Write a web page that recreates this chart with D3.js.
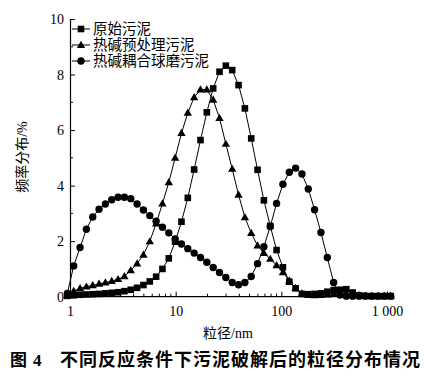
<!DOCTYPE html>
<html><head><meta charset="utf-8">
<script src="https://cdn.jsdelivr.net/npm/d3@7"></script>
<style>body{margin:0;background:#fff}svg{display:block}</style>
</head><body><svg id="c" width="433" height="379"></svg>
<script>
// particle size classes (nm)
const sizes = [0.944,1.084,1.245,1.429,1.641,1.884,2.163,2.483,2.851,3.273,3.758,4.315,4.955,5.689,6.531,7.499,8.610,9.886,11.35,13.03,14.96,17.18,19.72,22.65,26.00,29.85,34.28,39.36,45.19,51.88,59.57,68.39,78.52,90.16,103.5,118.9,136.5,156.7,179.9,206.5,237.1,272.3,312.6,358.9,412.1,473.2,543.3,623.7,716.1,822.2,944.1,1084];
// 原始污泥
const rawSludge = [0.03,0.05,0.07,0.08,0.09,0.10,0.12,0.14,0.16,0.20,0.25,0.32,0.42,0.55,0.72,1.00,1.38,1.98,2.70,3.56,4.58,5.64,6.64,7.50,8.10,8.32,8.16,7.62,6.78,5.70,4.57,3.47,2.55,1.68,1.06,0.54,0.30,0.10,0.09,0.10,0.12,0.18,0.24,0.25,0.27,0.15,0.05,0.03,0.02,0.02,0.02,0.02];
// 热碱预处理污泥
const thermalAlkali = [0.05,0.20,0.30,0.36,0.41,0.46,0.51,0.56,0.63,0.73,0.95,1.19,1.51,1.99,2.63,3.35,4.12,5.00,5.89,6.62,7.18,7.46,7.46,7.09,6.43,5.50,4.60,3.67,2.86,2.29,1.84,1.57,1.36,1.13,0.88,0.58,0.31,0.11,0.06,0.05,0.06,0.08,0.10,0.12,0.12,0.10,0.06,0.03,0.02,0.02,0.02,0.02];
// 热碱耦合球磨污泥
const ballMilled = [0.12,1.11,1.77,2.43,2.87,3.15,3.34,3.49,3.58,3.58,3.53,3.34,3.12,2.92,2.72,2.50,2.30,2.08,1.90,1.73,1.57,1.41,1.24,1.05,0.87,0.69,0.51,0.43,0.51,0.73,1.19,1.80,2.53,3.36,4.05,4.48,4.63,4.42,3.88,3.13,2.31,1.41,0.51,0.06,0.02,0.02,0.02,0.02,0.02,0.02,0.02,0.02];
const seriesNames = ["原始污泥","热碱预处理污泥","热碱耦合球磨污泥"];
const seriesSymbols = ["square","triangle","circle"];
const xTicks = [1,10,100,1000];
const xTickLabels = ["1","10","100","1 000"];
const xMinorTicks = [2,3,4,5,6,7,8,9,20,30,40,50,60,70,80,90,200,300,400,500,600,700,800,900];
const yTicks = [0,2,4,6,8,10];
const yMinorTicks = [1,3,5,7,9];

const svg = d3.select("#c");
svg.append("rect").attr("width",433).attr("height",379).attr("fill","#fff");

const x = d3.scaleLog().domain([1,1000]).range([70,387]);
const y = d3.scaleLinear().domain([0,10]).range([296.7,19]);
const xEnd = x(1100);

const serif = "'Liberation Serif','Times New Roman',serif";
// primary serif font keeps line metrics compact; CJK glyphs fall back to Noto Sans CJK
const mixed = "'Liberation Serif','Noto Sans CJK SC','Noto Sans CJK JP',serif";
const cjk = "'Noto Sans CJK SC','Noto Sans CJK JP',sans-serif";

// axes
const gx = svg.append("g").attr("transform",`translate(0,${y(0)})`)
  .call(d3.axisBottom(x).tickValues(xTicks).tickFormat((d,i)=>xTickLabels[i]).tickSizeInner(-5).tickSizeOuter(0).tickPadding(9));
gx.select(".domain").remove();
gx.selectAll("text").attr("font-family",serif).attr("font-size",14).attr("fill","#000");
gx.selectAll(".tick line").attr("stroke","#000");
gx.append("g").selectAll("line").data(xMinorTicks).join("line")
  .attr("x1",d=>x(d)).attr("x2",d=>x(d)).attr("y1",0).attr("y2",-3).attr("stroke","#000");
gx.append("line").attr("x1",x(1)).attr("x2",xEnd).attr("y1",0).attr("y2",0).attr("stroke","#000").attr("stroke-width",1.2);

const gy = svg.append("g").attr("transform",`translate(${x(1)},0)`)
  .call(d3.axisLeft(y).tickValues(yTicks).tickFormat(d3.format("d")).tickSizeInner(-5).tickSizeOuter(0).tickPadding(6));
gy.select(".domain").attr("stroke","#000").attr("stroke-width",1.2);
gy.selectAll("text").attr("font-family",serif).attr("font-size",14).attr("fill","#000");
gy.selectAll(".tick line").attr("stroke","#000");
gy.append("g").selectAll("line").data(yMinorTicks).join("line")
  .attr("y1",d=>y(d)).attr("y2",d=>y(d)).attr("x1",0).attr("x2",3).attr("stroke","#000");

// axis titles
svg.append("text").attr("x",228).attr("y",338).attr("text-anchor","middle")
  .attr("font-family",mixed).attr("font-size",14).attr("fill","#000").text("粒径/nm");
svg.append("text").attr("transform","translate(27,157) rotate(-90)").attr("text-anchor","middle")
  .attr("font-family",mixed).attr("font-size",14).attr("fill","#000").text("频率分布/%");

// markers
function drawMarker(g, type, cx, cy){
  if(type==="square"){
    g.append("rect").attr("x",cx-3.3).attr("y",cy-3.3).attr("width",6.6).attr("height",6.6).attr("fill","#000");
  } else if(type==="triangle"){
    g.append("path").attr("d",d3.symbol(d3.symbolTriangle,30)()).attr("transform",`translate(${cx},${cy+0.5})`).attr("fill","#000");
  } else {
    g.append("circle").attr("cx",cx).attr("cy",cy).attr("r",3.7).attr("fill","#000");
  }
}

const allSeries = [rawSludge, thermalAlkali, ballMilled];
const line = d3.line().x(d=>x(d[0])).y(d=>y(d[1]));
allSeries.forEach((vals,i)=>{
  const pts = sizes.map((s,j)=>[s,vals[j]]);
  const g = svg.append("g");
  g.append("path").attr("d",line(pts)).attr("fill","none").attr("stroke","#000").attr("stroke-width",1);
  pts.forEach(p=>drawMarker(g, seriesSymbols[i], x(p[0]), y(p[1])));
});

// legend
const legendY = [29,45,61];
seriesNames.forEach((name,i)=>{
  const g = svg.append("g");
  g.append("line").attr("x1",72).attr("x2",90).attr("y1",legendY[i]).attr("y2",legendY[i]).attr("stroke","#000");
  drawMarker(g, seriesSymbols[i], 81, legendY[i]);
  g.append("text").attr("x",93).attr("y",legendY[i]+5).attr("font-family",mixed).attr("font-size",14.5).attr("fill","#000").text(name);
});

// caption
svg.append("text").attr("x",10).attr("y",366).attr("font-family",cjk).attr("font-weight","bold").attr("font-size",17).text("图");
svg.append("text").attr("x",33).attr("y",366).attr("font-family",serif).attr("font-weight","bold").attr("font-size",17).text("4");
svg.append("text").attr("x",60).attr("y",366).attr("font-family",cjk).attr("font-weight","bold").attr("font-size",18)
  .attr("letter-spacing",1).attr("fill","#000").text("不同反应条件下污泥破解后的粒径分布情况");
</script></body></html>
